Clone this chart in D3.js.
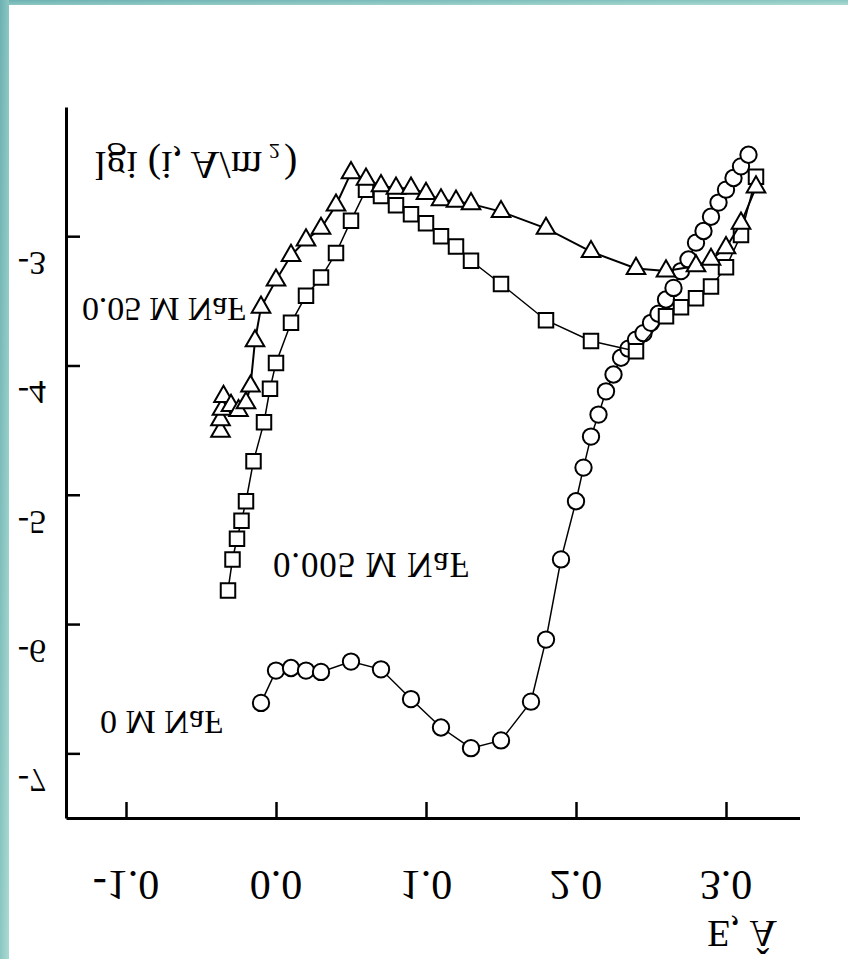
<!DOCTYPE html>
<html>
<head>
<meta charset="utf-8">
<script src="https://cdn.jsdelivr.net/npm/d3@7/dist/d3.min.js"></script>
<style>
  html, body { margin: 0; padding: 0; background: #ffffff; }
  svg { display: block; }
</style>
</head>
<body>
<script>
// Polarisation curves: lg i versus potential E for three NaF concentrations
const xTicks = [-1, 0, 1, 2, 3];
const yTicks = [-3, -4, -5, -6, -7];

// 0 M NaF (circles)
const e0 = [-0.10, 0.00, 0.10, 0.20, 0.30, 0.50, 0.70, 0.90, 1.10, 1.30, 1.50, 1.70, 1.80, 1.90, 2.00,
            2.05, 2.10, 2.15, 2.20, 2.25, 2.30, 2.35, 2.40, 2.45, 2.50, 2.55, 2.60, 2.65, 2.70, 2.75,
            2.80, 2.85, 2.90, 2.95, 3.00, 3.05, 3.10, 3.15];
const lg0 = [-6.61, -6.36, -6.34, -6.36, -6.37, -6.29, -6.35, -6.58, -6.80, -6.96, -6.90, -6.60, -6.12, -5.50, -5.05,
             -4.79, -4.55, -4.38, -4.20, -4.07, -3.94, -3.87, -3.80, -3.75, -3.67, -3.60, -3.49, -3.40, -3.27, -3.18,
             -3.05, -2.96, -2.85, -2.74, -2.64, -2.55, -2.46, -2.37];

// 0.005 M NaF (squares)
const e005 = [-0.32, -0.29, -0.26, -0.23, -0.20, -0.15, -0.08, -0.04, 0.00, 0.10, 0.20, 0.30, 0.40, 0.50, 0.60,
              0.70, 0.80, 0.90, 1.00, 1.10, 1.20, 1.30, 1.50, 1.80, 2.10, 2.40, 2.60, 2.70, 2.80, 2.90, 3.00, 3.10, 3.20];
const lg005 = [-5.74, -5.50, -5.34, -5.20, -5.05, -4.74, -4.44, -4.18, -3.98, -3.67, -3.46, -3.32, -3.13, -2.88, -2.64,
               -2.69, -2.76, -2.83, -2.90, -3.00, -3.08, -3.19, -3.37, -3.65, -3.81, -3.89, -3.62, -3.55, -3.48, -3.39, -3.24, -2.99, -2.54];

// 0.05 M NaF (triangles)
const e05 = [-0.37, -0.37, -0.36, -0.35, -0.30, -0.25, -0.20, -0.17, -0.14, -0.10, 0.00, 0.10, 0.20, 0.30, 0.40,
             0.50, 0.60, 0.70, 0.80, 0.90, 1.00, 1.10, 1.20, 1.30, 1.50, 1.80, 2.10, 2.40, 2.60, 2.80, 2.90, 3.00, 3.10, 3.20];
const lg05 = [-4.51, -4.42, -4.34, -4.24, -4.31, -4.35, -4.29, -4.16, -3.81, -3.55, -3.34, -3.15, -3.03, -2.94, -2.76,
              -2.51, -2.56, -2.61, -2.63, -2.63, -2.67, -2.72, -2.73, -2.75, -2.81, -2.94, -3.12, -3.25, -3.27, -3.23, -3.18, -3.09, -2.90, -2.62];

const W = 848, H = 959;
const FONT = "'Liberation Serif', 'Times New Roman', serif";

const svg = d3.select("body").append("svg")
  .attr("width", W).attr("height", H);

// teal frame along the top and left edges
const defs = svg.append("defs");
const grad = defs.append("linearGradient").attr("id", "frameGrad")
  .attr("x1", "0").attr("y1", "0").attr("x2", "1").attr("y2", "1");
grad.append("stop").attr("offset", "0").attr("stop-color", "#6cb1b2");
grad.append("stop").attr("offset", "1").attr("stop-color", "#aadbd2");
svg.append("rect").attr("x", 0).attr("y", 0).attr("width", W).attr("height", 5).attr("fill", "url(#frameGrad)");
svg.append("rect").attr("x", 0).attr("y", 0).attr("width", 9).attr("height", H).attr("fill", "url(#frameGrad)");

const x = d3.scaleLinear().domain([-1.4, 3.49]).range([66, 799.5]);
const y = d3.scaleLinear().domain([-7.5, -2.0]).range([818, 106.9]);

// axes: ticks point into the plot, labels drawn separately
const xAxis = svg.append("g").attr("transform", `translate(0,${y(-7.5)})`)
  .call(d3.axisBottom(x).tickValues(xTicks).tickSizeInner(-16).tickSizeOuter(0).tickFormat(""));
const yAxis = svg.append("g").attr("transform", `translate(${x(-1.4)},0)`)
  .call(d3.axisLeft(y).tickValues(yTicks).tickSizeInner(-14).tickSizeOuter(0).tickFormat(""));
[xAxis, yAxis].forEach(a => {
  a.select(".domain").attr("stroke", "#000").attr("stroke-width", 3);
  a.selectAll(".tick line").attr("stroke", "#000").attr("stroke-width", 2.5);
});

// text with its glyphs mirrored top-to-bottom; cy is the visual middle of the capitals
function flipText(txt, px, cy, size, anchor, len) {
  const t = svg.append("text")
    .attr("transform", `translate(${px},${cy - size * 0.33}) scale(1,-1)`)
    .attr("text-anchor", anchor)
    .attr("font-family", FONT)
    .attr("font-size", size)
    .attr("fill", "#000")
    .text(txt);
  if (len) t.attr("textLength", len).attr("lengthAdjust", "spacing");
  return t;
}

const fmtX = v => d3.format(".1f")(v).replace("\u2212", "-");
const fmtY = v => String(v).replace("\u2212", "-");

xTicks.forEach(v => flipText(fmtX(v), x(v), 885, 42, "middle"));
yTicks.forEach(v => flipText(fmtY(v), 46, y(v) + 27, 34, "end"));

// axis titles
flipText("E, \u00C2", 742, 934, 38, "middle");
flipText("lgi (i, A/m", 95, 165, 40, "start", 167);
flipText("2", 269, 151, 22, "start");
flipText(")", 284, 165, 40, "start");

// series annotations
flipText("0.05 M NaF", 82, 309, 34, "start", 164);
flipText("0.005 M NaF", 273, 565, 35, "start", 196);
flipText("0 M NaF", 100, 722, 34, "start", 123);

const line = d3.line().x(d => x(d[0])).y(d => y(d[1]));
const zip = (a, b) => a.map((v, i) => [v, b[i]]);

const s0 = zip(e0, lg0), s005 = zip(e005, lg005), s05 = zip(e05, lg05);

function drawSeries(data, symbolType, size, lineWidth) {
  const g = svg.append("g");
  g.append("path").datum(data).attr("d", line)
    .attr("fill", "none").attr("stroke", "#000").attr("stroke-width", lineWidth);
  g.selectAll("path.pt").data(data).join("path").attr("class", "pt")
    .attr("transform", d => `translate(${x(d[0])},${y(d[1])})`)
    .attr("d", d3.symbol().type(symbolType).size(size))
    .attr("fill", "#fff").attr("stroke", "#000").attr("stroke-width", 2);
}

drawSeries(s0, d3.symbolCircle, 210, 1.5);
drawSeries(s005, d3.symbolSquare, 210, 1.5);
drawSeries(s05, d3.symbolTriangle, 150, 2);
</script>
</body>
</html>
